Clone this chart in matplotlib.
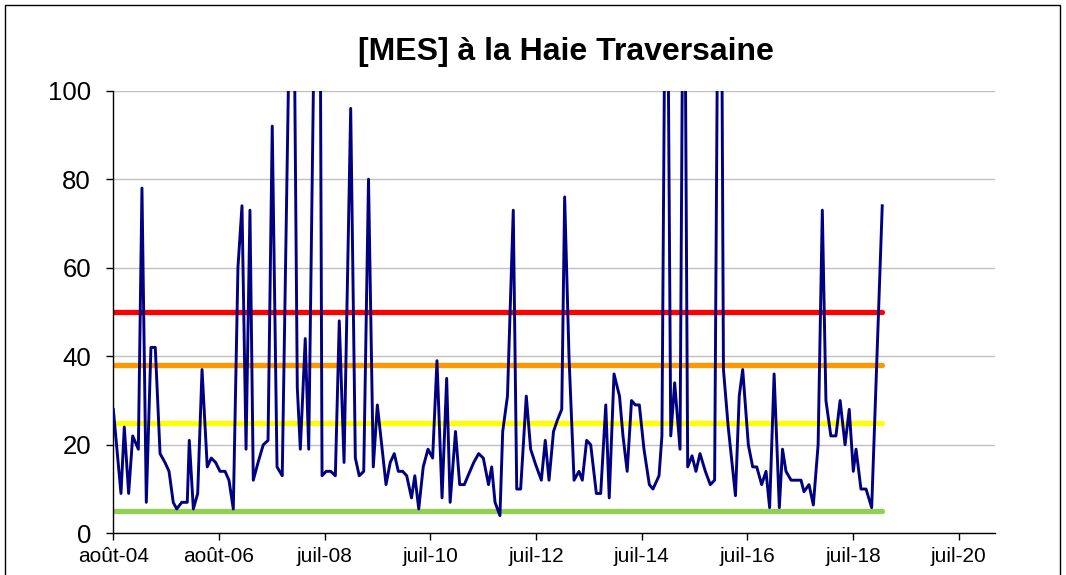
import numpy as np
import pandas as pd
import matplotlib
matplotlib.use("Agg")
import matplotlib.pyplot as plt
import matplotlib.dates as mdates
from matplotlib.ticker import FixedLocator
from matplotlib.patches import Rectangle

title = "[MES] à la Haie Traversaine"
start_date = "2004-08-01"

# sampling days since start_date
sample_day = [
    0, 53, 76, 106, 134, 173, 198, 228, 260, 290,
    323, 357, 385, 414, 438, 473, 511, 525, 553, 583,
    613, 649, 677, 707, 737, 772, 799, 829, 861, 889,
    917, 944, 967, 1000, 1036, 1069, 1098, 1131, 1167, 1214,
    1241, 1271, 1292, 1326, 1350, 1386, 1414, 1442, 1471, 1502,
    1534, 1561, 1594, 1640, 1672, 1699, 1730, 1763, 1796, 1824,
    1854, 1884, 1913, 1941, 1969, 1999, 2027, 2060, 2083, 2110,
    2141, 2174, 2206, 2236, 2271, 2303, 2327, 2364, 2393, 2425,
    2457, 2490, 2524, 2556, 2592, 2614, 2637, 2671, 2690, 2723,
    2763, 2787, 2814, 2853, 2883, 2918, 2957, 2984, 3010, 3041,
    3067, 3098, 3118, 3148, 3183, 3217, 3240, 3270, 3298, 3337,
    3367, 3402, 3426, 3459, 3497, 3521, 3550, 3580, 3606, 3634,
    3666, 3703, 3728, 3770, 3790, 3821, 3851, 3878, 3915, 3942,
    3968, 3998, 4025, 4053, 4090, 4124, 4154, 4191, 4215, 4248,
    4298, 4324, 4348, 4387, 4417, 4445, 4479, 4509, 4534, 4565,
    4601, 4623, 4647, 4682, 4716, 4751, 4771, 4806, 4836, 4869,
    4898, 4923, 4957, 4992, 5021, 5055, 5084, 5112, 5131, 5165,
    5200, 5239, 5312,
]

# MES concentration (mg/l)
mes = [
    28, 9, 24, 9, 22, 19, 78, 7, 42, 42,
    18, 16, 14, 7, 5.5, 7, 7, 21, 5.5, 9,
    37, 15, 17, 16, 14, 14, 12, 5.5, 60, 74,
    19, 73, 12, 16, 20, 21, 92, 15, 13, 110,
    150, 33, 19, 44, 19, 110, 250, 13, 14, 14,
    13, 48, 16, 96, 17, 13, 14, 80, 15, 29,
    20, 11, 16, 18, 14, 14, 13, 8, 13, 5.5,
    15, 19, 17, 39, 8, 35, 7, 23, 11, 11,
    13.5, 16, 18, 17, 11, 15, 7, 4, 23, 31,
    73, 10, 10, 31, 19, 15.5, 12, 21, 12, 23,
    25.5, 28, 76, 40, 12, 14, 12, 21, 20, 9,
    9, 29, 8, 36, 31, 22, 14, 30, 29, 29,
    19, 11, 10, 13, 22, 170, 22, 34, 19, 165,
    15, 17.5, 14, 18, 14, 11, 12, 200, 37, 24,
    8.5, 31, 37, 20, 15, 15, 11, 14, 5.8, 36,
    5.8, 19, 14, 12, 12, 12, 9.4, 11, 6.4, 20,
    73, 30, 22, 22, 30, 20, 28, 14, 19, 10,
    10, 5.8, 74,
]

thresholds = [50, 38, 25, 5]
threshold_colors = ["#FF0000", "#FF9900", "#FFFF00", "#92D050"]

tick_labels = ["août-04", "août-06", "juil-08", "juil-10", "juil-12",
               "juil-14", "juil-16", "juil-18", "juil-20"]
tick_step_days = 730
axis_span_days = 6093
y_ticks = [0, 20, 40, 60, 80, 100]

plt.rcParams["font.family"] = ["Liberation Sans", "DejaVu Sans"]

fig = plt.figure(figsize=(10.66, 5.75), dpi=100)
fig.patch.set_facecolor("white")
fig.patches.append(Rectangle((5 / 1066, -0.05), 1055 / 1066, 1.05 - 5 / 575,
                             transform=fig.transFigure, fill=False,
                             edgecolor="black", linewidth=1.0))

ax = fig.add_axes([113.3 / 1066, 1 - 533.3 / 575, (995.3 - 113.3) / 1066,
                   (533.3 - 90.7) / 575])

start = pd.Timestamp(start_date)
dates = start + pd.to_timedelta(sample_day, unit="D")
x = mdates.date2num(dates.to_pydatetime())
x_first, x_last = x[0], x[-1]

for val, col in zip(thresholds, threshold_colors):
    ax.plot([x_first, x_last], [val, val], color=col, linewidth=3.8,
            solid_capstyle="round", zorder=2)

ax.plot(x, mes, color="#000080", linewidth=2.1, zorder=3)

x0 = mdates.date2num(start.to_pydatetime())
ax.set_xlim(x0, x0 + axis_span_days)
ax.set_ylim(0, 100)

tick_pos = [mdates.date2num((start + pd.Timedelta(days=tick_step_days * i)).to_pydatetime())
            for i in range(len(tick_labels))]
ax.xaxis.set_major_locator(FixedLocator(tick_pos))
ax.set_xticklabels(tick_labels, fontsize=15)
ax.yaxis.set_major_locator(FixedLocator(y_ticks))
ax.set_yticklabels([str(v) for v in y_ticks], fontsize=18.5)

ax.grid(axis="y", color="#C0C0C0", linewidth=1.0, zorder=0)
ax.set_axisbelow(True)
for s in ["top", "right"]:
    ax.spines[s].set_visible(False)
for s in ["left", "bottom"]:
    ax.spines[s].set_color("black")
    ax.spines[s].set_linewidth(1.0)
ax.tick_params(axis="both", direction="out", length=5, width=1, colors="black")
ax.tick_params(axis="y", pad=11)
ax.tick_params(axis="x", pad=5)

fig.text(566 / 1066, 1 - 52 / 575, title, ha="center", va="center",
         fontsize=23, fontweight="bold")

fig.savefig("out.png", dpi=100)
